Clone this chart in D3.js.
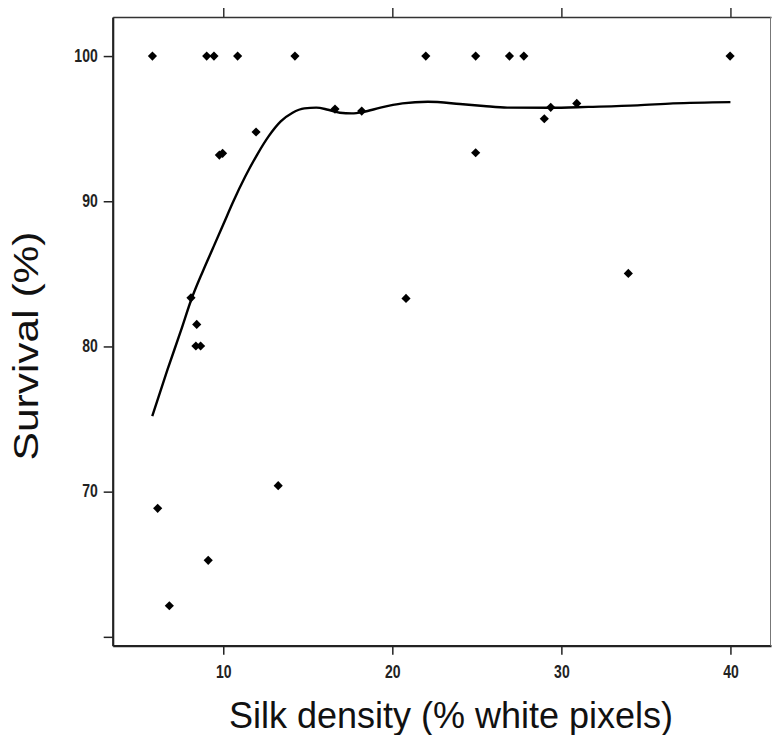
<!DOCTYPE html>
<html>
<head>
<meta charset="utf-8">
<script src="https://cdn.jsdelivr.net/npm/d3@7"></script>
<style>
  body { margin: 0; background: #fff; }
  svg { display: block; }
</style>
</head>
<body>
<svg></svg>
<script>
// observed points: silk density (%) vs survival (%)
var silkDensity = [5.81, 9.02, 9.45, 10.85, 14.24, 21.98, 24.93, 26.93, 27.78, 39.98,
  11.94, 9.77, 9.96, 16.61, 18.19, 28.99, 29.37, 30.91, 24.93, 20.81, 33.96,
  8.09, 8.43, 8.38, 8.66, 6.12, 6.81, 9.11, 13.25];
var survival = [100, 100, 100, 100, 100, 100, 100, 100, 100, 100,
  94.77, 93.18, 93.30, 96.35, 96.21, 95.68, 96.47, 96.74, 93.34, 83.31, 85.03,
  83.35, 81.52, 80.03, 80.03, 68.85, 62.14, 65.27, 70.41];

// smoothed fit line
var fitX = [5.8, 6.7, 7.5, 8.1, 8.8, 9.4, 10.0, 10.6, 11.3, 12.0, 12.7, 13.4, 14.1, 14.8,
  15.5, 16.2, 16.9, 17.6, 18.3, 19.3, 20.6, 22.1, 24.0, 25.4, 26.8, 29.3, 31.6, 34.5, 36.6, 40.0];
var fitY = [75.2, 78.4, 81.1, 83.2, 85.2, 86.8, 88.4, 90.0, 91.7, 93.2, 94.5, 95.5, 96.1, 96.4,
  96.45, 96.3, 96.1, 96.05, 96.15, 96.45, 96.74, 96.85, 96.7, 96.56, 96.45, 96.44, 96.5, 96.6, 96.74, 96.83];

var xTicks = [10, 20, 30, 40];
var yTicks = [60, 70, 80, 90, 100];
var yTickLabels = ["", "70", "80", "90", "100"];

var width = 772, height = 735;
var plotLeft = 112.7, plotRight = 771, plotTop = 17, plotBottom = 645.7;

var svg = d3.select("svg")
    .attr("width", width)
    .attr("height", height);

var x = d3.scaleLinear().domain([3.46, 42.4]).range([plotLeft, plotRight]);
var y = d3.scaleLinear().domain([59.39, 102.69]).range([plotBottom, plotTop]);

var font = "'Liberation Sans', Arial, sans-serif";

// bottom axis
var xAxis = svg.append("g")
    .attr("transform", "translate(0," + plotBottom + ")")
    .call(d3.axisBottom(x).tickValues(xTicks).tickSize(9).tickPadding(7).tickSizeOuter(0));
xAxis.select(".domain").attr("stroke", "#222").attr("stroke-width", 2.2);
xAxis.selectAll(".tick line").attr("stroke", "#222").attr("stroke-width", 1.5);
xAxis.selectAll(".tick text")
    .attr("font-family", font)
    .attr("font-weight", "bold")
    .attr("font-size", 14)
    .attr("fill", "#222")
    .attr("transform", "scale(1,1.25)");

// top ticks (no labels)
var xTop = svg.append("g")
    .attr("transform", "translate(0," + plotTop + ")")
    .call(d3.axisTop(x).tickValues(xTicks).tickSize(9).tickFormat("").tickSizeOuter(0));
xTop.select(".domain").attr("stroke", "#333").attr("stroke-width", 1.6);
xTop.selectAll(".tick line").attr("stroke", "#333").attr("stroke-width", 1.5);

// left axis
var yAxis = svg.append("g")
    .attr("transform", "translate(" + plotLeft + ",0)")
    .call(d3.axisLeft(y).tickValues(yTicks).tickSize(9).tickPadding(6).tickSizeOuter(0)
      .tickFormat(function(d, i) { return yTickLabels[i]; }));
yAxis.select(".domain").attr("stroke", "#222").attr("stroke-width", 2.2);
yAxis.selectAll(".tick line").attr("stroke", "#222").attr("stroke-width", 1.5);
yAxis.selectAll(".tick text")
    .attr("font-family", font)
    .attr("font-weight", "bold")
    .attr("font-size", 14)
    .attr("fill", "#222")
    .attr("dy", "0.3em")
    .attr("transform", "scale(1,1.25)");

// right border
svg.append("line")
    .attr("x1", plotRight - 0.5).attr("x2", plotRight - 0.5)
    .attr("y1", plotTop).attr("y2", plotBottom)
    .attr("stroke", "#777").attr("stroke-width", 1);

// fit line
var fitData = fitX.map(function(d, i) { return [d, fitY[i]]; });
svg.append("path")
    .datum(fitData)
    .attr("fill", "none")
    .attr("stroke", "#000")
    .attr("stroke-width", 2.4)
    .attr("d", d3.line()
      .x(function(d) { return x(d[0]); })
      .y(function(d) { return y(d[1]); })
      .curve(d3.curveMonotoneX));

// points (diamonds)
var pts = silkDensity.map(function(d, i) { return [d, survival[i]]; });
svg.append("g")
    .selectAll("path")
    .data(pts)
    .enter()
    .append("path")
    .attr("d", d3.symbol().type(d3.symbolSquare).size(42))
    .attr("fill", "#000")
    .attr("transform", function(d) {
      return "translate(" + x(d[0]) + "," + y(d[1]) + ") rotate(45)";
    });

// axis titles
svg.append("text")
    .attr("x", 451)
    .attr("y", 728)
    .attr("text-anchor", "middle")
    .attr("font-family", font)
    .attr("font-size", 36)
    .attr("fill", "#111")
    .text("Silk density (% white pixels)");

svg.append("text")
    .attr("transform", "translate(38,346) scale(1,1.18) rotate(-90)")
    .attr("text-anchor", "middle")
    .attr("font-family", font)
    .attr("font-size", 36)
    .attr("fill", "#111")
    .text("Survival (%)");
</script>
</body>
</html>
